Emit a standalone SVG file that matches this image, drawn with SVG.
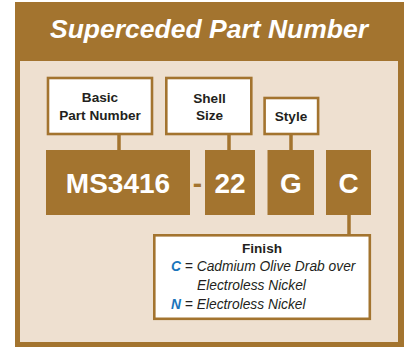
<svg xmlns="http://www.w3.org/2000/svg" width="406" height="348" viewBox="0 0 406 348">
<style>
.br{fill:#A3742F}
.lbl{fill:#fff;stroke:#A3742F;stroke-width:2.6}
.lt{font-family:"Liberation Sans",Arial,sans-serif;font-weight:bold;font-size:13.6px;fill:#231F20;text-anchor:middle}
.big{font-family:"Liberation Sans",Arial,sans-serif;font-weight:bold;font-size:28px;fill:#fff;text-anchor:middle}
.conn{stroke:#A3742F;stroke-width:3.5;fill:none}
.fi{font-family:"Liberation Sans",Arial,sans-serif;font-style:italic;font-size:13.8px;fill:#231F20}
.key{font-weight:bold;fill:#1B75BB}
</style>
<rect x="15" y="2" width="389" height="345" class="br"/>
<rect x="20" y="61" width="378" height="281" fill="#EEE0D0"/>
<text x="209" y="37.5" font-family="'Liberation Sans',Arial,sans-serif" font-weight="bold" font-style="italic" font-size="26.5" fill="#fff" text-anchor="middle">Superceded Part Number</text>
<g id="connectors">
<line x1="119" y1="135" x2="119" y2="150" class="conn"/>
<line x1="229" y1="135" x2="229" y2="150" class="conn"/>
<line x1="291" y1="135" x2="291" y2="150" class="conn"/>
<line x1="349" y1="215" x2="349" y2="235" class="conn"/>
</g>
<g id="label-basic">
<rect x="48" y="78" width="104" height="56" class="lbl"/>
<text x="100" y="102" class="lt">Basic</text>
<text x="100" y="120" class="lt">Part Number</text>
</g>
<g id="label-shell">
<rect x="166.3" y="78" width="85" height="56" class="lbl"/>
<text x="209.5" y="103" class="lt">Shell</text>
<text x="209.5" y="120" class="lt">Size</text>
</g>
<g id="label-style">
<rect x="264.6" y="98" width="53.5" height="36" class="lbl"/>
<text x="291" y="121" class="lt">Style</text>
</g>
<g id="code-ms3416">
<rect x="46" y="150" width="144" height="65" class="br"/>
<text x="118" y="193" class="big">MS3416</text>
</g>
<text x="197.5" y="193" class="big" style="fill:#A3742F">-</text>
<g id="code-22">
<rect x="205" y="150" width="50" height="65" class="br"/>
<text x="230" y="193" class="big">22</text>
</g>
<g id="code-g">
<rect x="267.5" y="150" width="46.5" height="65" class="br"/>
<text x="290.8" y="193" class="big">G</text>
</g>
<g id="code-c">
<rect x="326" y="150" width="45" height="65" class="br"/>
<text x="348.5" y="193" class="big">C</text>
</g>
<g id="finish">
<rect x="154.3" y="235.3" width="215.5" height="83.5" class="lbl"/>
<text x="262" y="253" class="lt">Finish</text>
<text x="171" y="271" class="fi"><tspan class="key">C</tspan> = Cadmium Olive Drab over</text>
<text x="197" y="290" class="fi">Electroless Nickel</text>
<text x="171" y="309" class="fi"><tspan class="key">N</tspan> = Electroless Nickel</text>
</g>
</svg>
